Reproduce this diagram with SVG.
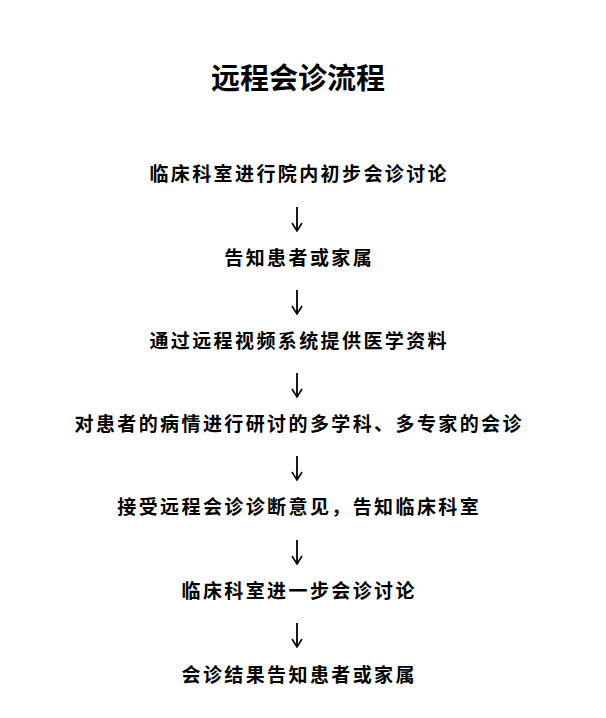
<svg xmlns="http://www.w3.org/2000/svg" width="606" height="718" viewBox="0 0 606 718">
<defs>
<marker id="arr" viewBox="0 0 10 12" refX="9" refY="6" markerWidth="10" markerHeight="12" markerUnits="userSpaceOnUse" orient="auto">
<path d="M1,1 L9,6 L1,11" fill="none" stroke="#000" stroke-width="1.6"/>
</marker>
<style>
.t{font-family:"Noto Sans CJK SC","Noto Sans CJK JP",sans-serif;fill:#000;text-anchor:middle}
.title{font-size:29px;font-weight:700}
.s{font-size:19px;font-weight:600;letter-spacing:2.4px}
.c{stroke:#000;stroke-width:1.8;fill:none}
</style>
</defs>
<rect width="606" height="718" fill="#fff"/>
<text id="title" class="t title" x="298" y="89">远程会诊流程</text>
<g id="step1"><text class="t s" x="299.2" y="181">临床科室进行院内初步会诊讨论</text></g>
<g id="step2"><text class="t s" x="299.2" y="265">告知患者或家属</text></g>
<g id="step3"><text class="t s" x="299.2" y="348">通过远程视频系统提供医学资料</text></g>
<g id="step4"><text class="t s" x="299.2" y="431">对患者的病情进行研讨的多学科、多专家的会诊</text></g>
<g id="step5"><text class="t s" x="299.2" y="514">接受远程会诊诊断意见，告知临床科室</text></g>
<g id="step6"><text class="t s" x="299.2" y="598">临床科室进一步会诊讨论</text></g>
<g id="step7"><text class="t s" x="299.2" y="682">会诊结果告知患者或家属</text></g>
<g id="connectors">
<line class="c" x1="297" y1="207" x2="297" y2="231" marker-end="url(#arr)"/>
<line class="c" x1="297" y1="290" x2="297" y2="314" marker-end="url(#arr)"/>
<line class="c" x1="297" y1="373" x2="297" y2="397" marker-end="url(#arr)"/>
<line class="c" x1="297" y1="456" x2="297" y2="480" marker-end="url(#arr)"/>
<line class="c" x1="297" y1="540" x2="297" y2="564" marker-end="url(#arr)"/>
<line class="c" x1="297" y1="623" x2="297" y2="647" marker-end="url(#arr)"/>
</g>
</svg>
